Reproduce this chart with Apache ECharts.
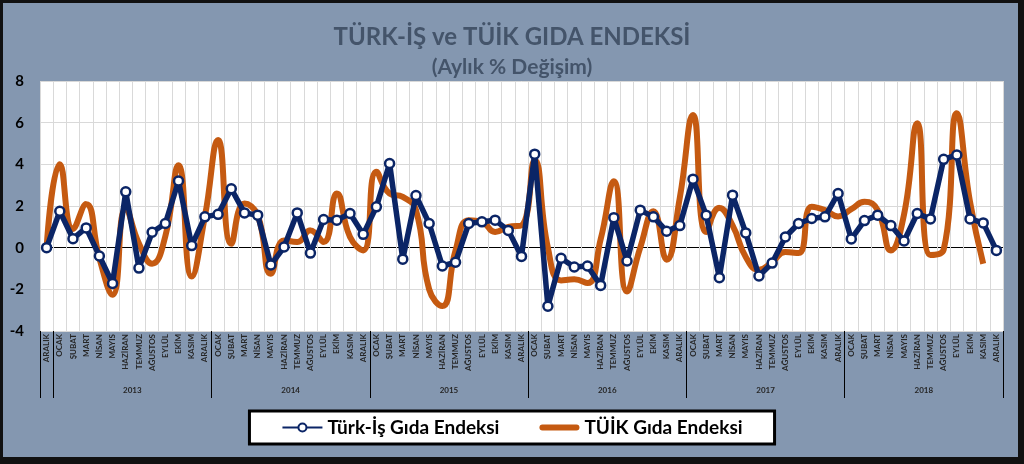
<!DOCTYPE html>
<html>
<head>
<meta charset="utf-8">
<script src="https://cdn.jsdelivr.net/npm/echarts@6/dist/echarts.min.js"></script>
<style>
  html, body { margin: 0; padding: 0; background: #8497b0; }
  #chart { width: 1024px; height: 464px; position: absolute; left: 0; top: 0; }
  #frame { position: absolute; left: 0; top: 0; width: 1024px; height: 464px; box-sizing: border-box;
           border-style: solid; border-color: #111; border-width: 3px 6px 7px 3px; pointer-events: none; }
</style>
</head>
<body>
<div id="chart"></div>
<div id="frame"></div>
<script>
// ay isimleri ve yillar
const months = ['OCAK', 'ŞUBAT', 'MART', 'NİSAN', 'MAYIS', 'HAZİRAN', 'TEMMUZ', 'AĞUSTOS', 'EYLÜL', 'EKİM', 'KASIM', 'ARALIK']
const years = ['2013', '2014', '2015', '2016', '2017', '2018']

// Türk-İş Gıda Endeksi (aylık % değişim), Aralık 2012 - Aralık 2018
const turkIs = [0.0, 1.75, 0.43, 0.95, -0.4, -1.72, 2.68, -0.98, 0.74, 1.16, 3.2, 0.1, 1.48,
  1.6, 2.83, 1.67, 1.56, -0.83, 0.03, 1.67, -0.26, 1.35, 1.32, 1.64, 0.64,
  1.96, 4.04, -0.55, 2.5, 1.16, -0.88, -0.7, 1.16, 1.24, 1.32, 0.83, -0.42,
  4.49, -2.81, -0.51, -0.93, -0.88, -1.81, 1.44, -0.64, 1.8, 1.48, 0.79, 1.06,
  3.29, 1.56, -1.44, 2.52, 0.71, -1.36, -0.74, 0.51, 1.16, 1.4, 1.48, 2.6,
  0.42, 1.3, 1.56, 1.06, 0.32, 1.64, 1.38, 4.24, 4.45, 1.38, 1.19, -0.13]

// TÜİK Gıda Endeksi
const tuik = [0, 4.0, 0.9, 2.09, -0.5, -2.26, 1.88, 0.2, -0.77, 0.55, 3.96, -1.38, 1.5,
  5.17, 0.19, 2.12, 1.56, -1.25, 0.35, 0.27, 0.83, 0.27, 2.6, 0.51, -0.13,
  3.64, 2.6, 2.44, 1.8, -2.0, -2.8, -0.13, 1.32, 1.24, 0.75, 1.0, 1.07,
  4.2, 0.0, -1.57, -1.52, -1.7, 0.4, 3.19, -2.1, 0.0, 1.75, -0.58, 2.4,
  6.37, 0.75, 1.91, 1.07, -0.45, -1.06, -0.69, -0.21, -0.26, 1.96, 1.8, 1.5,
  1.85, 2.2, 1.8, -0.13, 1.6, 5.97, -0.35, -0.1, 6.45, 2.2, -0.77, null]

const yTicks = { min: -4, max: 8, interval: 2 }

// kategori anahtarlari: ARALIK 2012 + her yilin aylari
let cats = ['ARALIK|2012']
years.forEach(y => months.forEach(m => cats.push(m + '|' + y)))

// yil etiketlerinin ve ayirici cizgilerin konumu
const yearCenters = years.map((y, i) => 1 + i * 12 + 6)
const yearBounds = [0].concat(years.map((y, i) => 1 + i * 12), [cats.length])

const navy = '#0b2566'
const orange = '#c55a11'
const font = 'Lato'

const myChart = echarts.init(document.getElementById('chart'))

myChart.setOption({
  backgroundColor: '#8497b0',
  textStyle: { fontFamily: font },
  title: [
    {
      text: 'TÜRK-İŞ ve TÜİK GIDA ENDEKSİ',
      left: 'center', top: 20,
      textStyle: { fontFamily: font, fontSize: 24, fontWeight: 'bold', color: '#44546a' }
    },
    {
      text: '(Aylık % Değişim)',
      left: 'center', top: 52,
      textStyle: { fontFamily: font, fontSize: 21, fontWeight: 'bold', color: '#44546a' }
    }
  ],
  legend: {
    top: 411,
    left: 'center',
    backgroundColor: '#fff',
    borderColor: '#000',
    borderWidth: 3,
    padding: [7, 32],
    itemGap: 40,
    itemWidth: 40,
    itemHeight: 10,
    textStyle: { fontFamily: font, fontSize: 19, fontWeight: 'bold', color: '#000' },
    data: [
      { name: 'Türk-İş Gıda Endeksi' },
      { name: 'TÜİK Gıda Endeksi', icon: 'path://M3,0 L37,0 A3,3 0 0 1 37,6 L3,6 A3,3 0 0 1 3,0 Z' }
    ]
  },
  grid: {
    left: 40, right: 21, top: 81, bottom: 133,
    show: true, backgroundColor: '#fff', borderWidth: 0
  },
  xAxis: [
    {
      type: 'category',
      data: cats,
      axisLine: { show: false },
      axisTick: { show: false },
      splitLine: { show: true, lineStyle: { color: '#d9d9d9', width: 1 } },
      axisLabel: {
        rotate: 90,
        interval: 0,
        margin: 3,
        fontSize: 8,
        fontWeight: 'bold',
        color: '#262626',
        formatter: v => v.split('|')[0]
      }
    },
    {
      type: 'value',
      min: 0,
      max: cats.length,
      position: 'bottom',
      axisLine: { show: false },
      splitLine: { show: false },
      axisTick: {
        show: true,
        customValues: yearBounds,
        length: 67,
        lineStyle: { color: '#000', width: 1 }
      },
      axisLabel: {
        customValues: yearCenters,
        margin: 55,
        fontSize: 8,
        fontWeight: 'bold',
        color: '#262626',
        formatter: v => years[(v - 7) / 12]
      }
    }
  ],
  yAxis: {
    type: 'value',
    min: yTicks.min,
    max: yTicks.max,
    interval: yTicks.interval,
    axisLine: { show: false },
    axisTick: { show: false },
    axisLabel: { margin: 16, fontSize: 15, fontWeight: 'bold', color: '#000' },
    splitLine: {
      show: true,
      // sifir cizgisi siyah
      lineStyle: { color: ['#d9d9d9', '#d9d9d9', '#000', '#d9d9d9', '#d9d9d9', '#d9d9d9', '#d9d9d9'], width: 1 }
    }
  },
  series: [
    {
      name: 'TÜİK Gıda Endeksi',
      type: 'line',
      data: tuik,
      smooth: 0.5,
      symbol: 'none',
      z: 2,
      lineStyle: { color: orange, width: 6 },
      itemStyle: { color: orange }
    },
    {
      name: 'Türk-İş Gıda Endeksi',
      type: 'line',
      data: turkIs,
      smooth: false,
      symbol: 'circle',
      symbolSize: 9,
      showAllSymbol: true,
      z: 3,
      lineStyle: { color: navy, width: 5.5, join: 'round' },
      itemStyle: { color: '#fff', borderColor: navy, borderWidth: 2.5 }
    }
  ]
})
</script>
</body>
</html>
